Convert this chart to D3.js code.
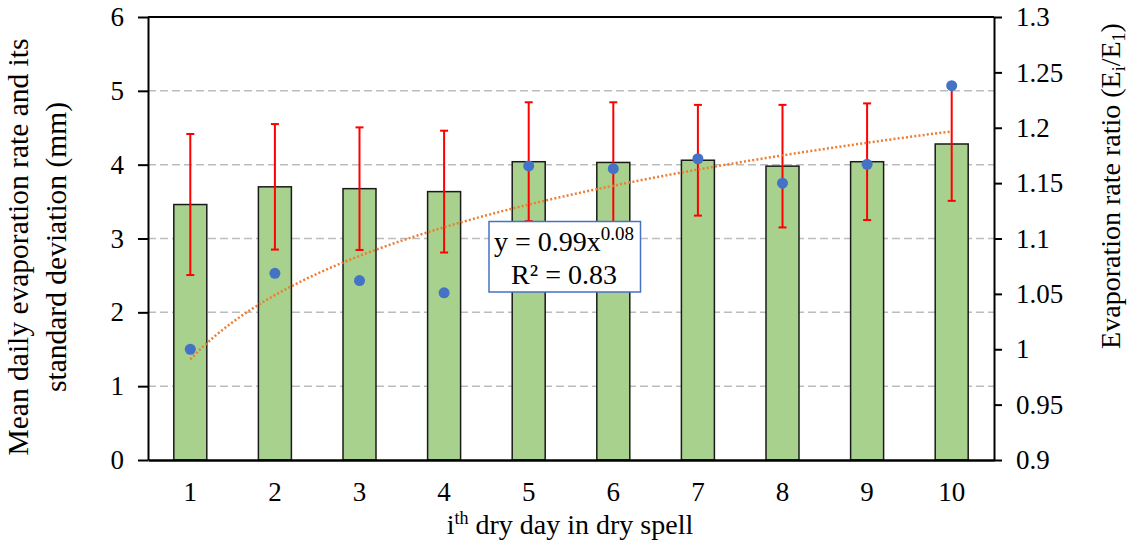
<!DOCTYPE html>
<html>
<head>
<meta charset="utf-8">
<script src="https://cdn.jsdelivr.net/npm/d3@7"></script>
<style>
  html, body { margin: 0; padding: 0; background: #fff; }
  svg { display: block; }
  text { font-family: "Liberation Serif", "Times New Roman", serif; fill: #000; }
</style>
</head>
<body>
<svg id="chart" width="1135" height="548"></svg>
<script>
// Day of the dry spell
const days = [1, 2, 3, 4, 5, 6, 7, 8, 9, 10];
// Mean daily evaporation (mm)
const meanEvap = [3.46, 3.70, 3.675, 3.635, 4.04, 4.03, 4.06, 3.98, 4.04, 4.28];
// Standard deviation of daily evaporation (mm)
const sdEvap = [0.955, 0.85, 0.83, 0.825, 0.805, 0.815, 0.75, 0.83, 0.79, 0.77];
// Evaporation rate ratio Ei/E1
const ratio = [1.000, 1.0686, 1.062, 1.051, 1.1655, 1.163, 1.172, 1.150, 1.167, 1.238];

const leftTicks = [0, 1, 2, 3, 4, 5, 6];
const leftTickLabels = ["0", "1", "2", "3", "4", "5", "6"];
const rightTicks = [0.9, 0.95, 1.0, 1.05, 1.1, 1.15, 1.2, 1.25, 1.3];
const rightTickLabels = ["0.9", "0.95", "1", "1.05", "1.1", "1.15", "1.2", "1.25", "1.3"];
const dayLabels = ["1", "2", "3", "4", "5", "6", "7", "8", "9", "10"];

const svg = d3.select("#chart");
const L = 148, R = 994, T = 17, B = 460;
const FONT = '"Liberation Serif", "Times New Roman", serif';

const x = d3.scaleBand().domain(days).range([L, R]).paddingInner(0.61).paddingOuter(0.305);
const yL = d3.scaleLinear().domain([0, 6]).range([B, T]);
const yR = d3.scaleLinear().domain([0.9, 1.3]).range([B, T]);
const cx = d => x(d) + x.bandwidth() / 2;

// Horizontal dashed gridlines
svg.append("g").selectAll("line")
  .data(leftTicks.filter(v => v > 0 && v < 6))
  .join("line")
  .attr("x1", L).attr("x2", R)
  .attr("y1", d => yL(d)).attr("y2", d => yL(d))
  .attr("stroke", "#bcbcbc").attr("stroke-width", 1.5)
  .attr("stroke-dasharray", "8,4");

// Bars: mean daily evaporation
svg.append("g").selectAll("rect")
  .data(days)
  .join("rect")
  .attr("x", d => x(d))
  .attr("width", x.bandwidth())
  .attr("y", (d, i) => yL(meanEvap[i]))
  .attr("height", (d, i) => yL(0) - yL(meanEvap[i]))
  .attr("fill", "#a9d18e")
  .attr("stroke", "#1a1a1a").attr("stroke-width", 1.5);

// Error bars: ± one standard deviation
const eb = svg.append("g").attr("stroke", "#ff0000").attr("stroke-width", 2);
days.forEach((d, i) => {
  const hi = yL(meanEvap[i] + sdEvap[i]), lo = yL(meanEvap[i] - sdEvap[i]);
  eb.append("line").attr("x1", cx(d)).attr("x2", cx(d)).attr("y1", hi).attr("y2", lo);
  eb.append("line").attr("x1", cx(d) - 4).attr("x2", cx(d) + 4).attr("y1", hi).attr("y2", hi);
  eb.append("line").attr("x1", cx(d) - 4).attr("x2", cx(d) + 4).attr("y1", lo).attr("y2", lo);
});

// Power-law trend fitted to the ratio (least squares in log-log space)
const lx = days.map(Math.log), ly = ratio.map(Math.log);
const mx = d3.mean(lx), my = d3.mean(ly);
const b = d3.sum(lx.map((v, i) => (v - mx) * (ly[i] - my))) / d3.sum(lx.map(v => (v - mx) ** 2));
const a = Math.exp(my - b * mx);
const xNum = d3.scaleLinear().domain([1, 10]).range([cx(1), cx(10)]);
const trend = d3.range(1, 10.001, 0.1).map(t => [xNum(t), yR(a * Math.pow(t, b))]);
svg.append("path")
  .attr("d", d3.line()(trend))
  .attr("fill", "none")
  .attr("stroke", "#ed7d31").attr("stroke-width", 2.5)
  .attr("stroke-dasharray", "2,2.2");

// Ratio points
svg.append("g").selectAll("circle")
  .data(days)
  .join("circle")
  .attr("cx", d => cx(d))
  .attr("cy", (d, i) => yR(ratio[i]))
  .attr("r", 5.5)
  .attr("fill", "#4472c4");

// Plot frame: top border
svg.append("line").attr("x1", L).attr("x2", R).attr("y1", T).attr("y2", T)
  .attr("stroke", "#000").attr("stroke-width", 2);

// Left axis
const gL = svg.append("g").attr("transform", `translate(${L},0)`)
  .call(d3.axisLeft(yL).tickValues(leftTicks).tickFormat((d, i) => leftTickLabels[i])
    .tickSize(10).tickSizeOuter(0).tickPadding(14));
// Right axis
const gR = svg.append("g").attr("transform", `translate(${R},0)`)
  .call(d3.axisRight(yR).tickValues(rightTicks).tickFormat((d, i) => rightTickLabels[i])
    .tickSize(8).tickSizeOuter(0).tickPadding(14));
// Bottom axis
const gB = svg.append("g").attr("transform", `translate(0,${B})`)
  .call(d3.axisBottom(x).tickFormat((d, i) => dayLabels[i]).tickSize(0).tickPadding(22));

[gL, gR, gB].forEach(g => {
  g.attr("font-family", FONT);
  g.selectAll(".domain").attr("stroke", "#000").attr("stroke-width", 2);
  g.selectAll(".tick line").attr("stroke", "#000").attr("stroke-width", 2);
  g.selectAll(".tick text").attr("font-family", FONT).attr("font-size", 27).attr("fill", "#000");
});
gB.select(".domain").attr("stroke-width", 2.5);

// Axis titles
svg.append("text")
  .attr("transform", "translate(28,247) rotate(-90)")
  .attr("text-anchor", "middle").attr("font-size", 29.5)
  .text("Mean daily evaporation rate and its");
svg.append("text")
  .attr("transform", "translate(66,247) rotate(-90)")
  .attr("text-anchor", "middle").attr("font-size", 29.5)
  .text("standard deviation (mm)");

const rt = svg.append("text")
  .attr("transform", "translate(1120,186) rotate(-90)")
  .attr("text-anchor", "middle").attr("font-size", 28);
rt.append("tspan").text("Evaporation rate ratio (E");
rt.append("tspan").attr("font-size", 18).attr("dy", 5).text("i");
rt.append("tspan").attr("dy", -5).text("/E");
rt.append("tspan").attr("font-size", 18).attr("dy", 5).text("1");
rt.append("tspan").attr("dy", -5).text(")");

const xt = svg.append("text")
  .attr("x", 570).attr("y", 534)
  .attr("text-anchor", "middle").attr("font-size", 28);
xt.append("tspan").text("i");
xt.append("tspan").attr("font-size", 18).attr("dy", -10).text("th");
xt.append("tspan").attr("dy", 10).text(" dry day in dry spell");

// Fitted equation label
const box = svg.append("g");
box.append("rect")
  .attr("x", 489).attr("y", 221.5).attr("width", 151.5).attr("height", 70.5)
  .attr("fill", "#fff").attr("stroke", "#4472c4").attr("stroke-width", 1.5);
const eq = box.append("text").attr("x", 564).attr("y", 251).attr("text-anchor", "middle").attr("font-size", 28);
eq.append("tspan").text("y = 0.99x");
eq.append("tspan").attr("font-size", 19).attr("dy", -11).text("0.08");
box.append("text").attr("x", 564).attr("y", 284).attr("text-anchor", "middle").attr("font-size", 28)
  .text("R² = 0.83");
</script>
</body>
</html>
